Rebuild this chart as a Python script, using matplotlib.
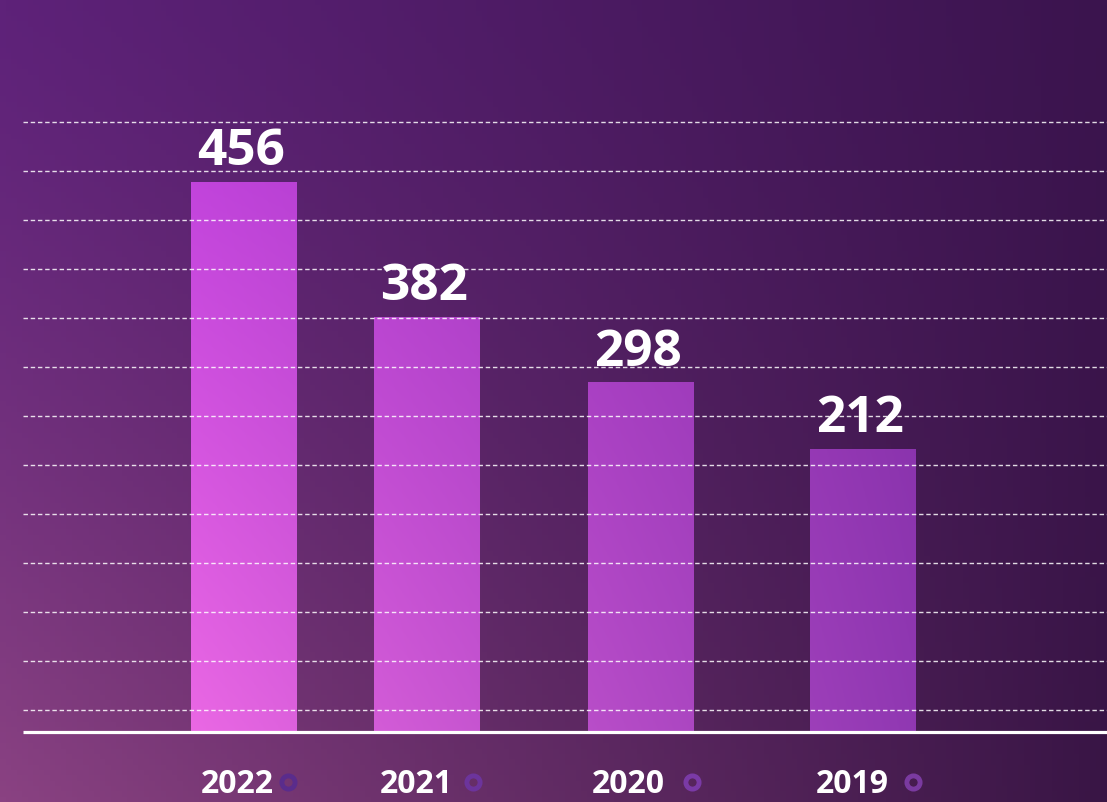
import numpy as np
import matplotlib
matplotlib.use("Agg")
import matplotlib.pyplot as plt
from matplotlib.colors import to_rgb

# ---- data ----
years = ["2022", "2021", "2020", "2019"]
values = [456, 382, 298, 212]            # printed labels
bar_heights = [456, 344, 290, 235]       # drawn bar heights as in the picture (same scale)

# ---- layout (pixels of the 1107x802 canvas) ----
W, H = 1107, 802
bar_centers = [244, 426.5, 640.5, 862.5]
bar_width = 106
label_shift = [-7, -10, -12, -10]        # x shift of the year label from bar centre
ring_shift = [44, 46, 51, 50]            # x shift of the ring marker from bar centre
ring_colors = ["#5a2c8c", "#6c349c", "#7a3aa6", "#7a3aa0"]
baseline_px = 732
px_per_unit = 550 / 456

FONT = ["Open Sans", "DejaVu Sans"]

fig = plt.figure(figsize=(W / 100, H / 100), dpi=100)

# ---- background gradient ----
bg = fig.add_axes([0, 0, 1, 1])
bg.set_axis_off()
tl, tr = np.array(to_rgb("#5e2279")), np.array(to_rgb("#3b144e"))
bl, br = np.array(to_rgb("#8a4282")), np.array(to_rgb("#391545"))
xs = np.linspace(0, 1, 200)[None, :, None]
ys = np.linspace(0, 1, 150)[:, None, None]
top = tl * (1 - xs) + tr * xs
bot = bl * (1 - xs) + br * xs
img = top * (1 - ys ** 1.3) + bot * ys ** 1.3
bg.imshow(img, extent=[0, 1, 0, 1], aspect="auto", origin="upper")
bg.set_xlim(0, 1)
bg.set_ylim(0, 1)

# ---- main axes ----
ax = fig.add_axes([0, (H - baseline_px) / H, 1, baseline_px / H])
ax.set_facecolor("none")
ax.set_xlim(0, W)
ymax = baseline_px / px_per_unit
ax.set_ylim(0, ymax)
for s in ax.spines.values():
    s.set_visible(False)
ax.set_xticks([])
ax.set_yticks([])

# bars with a gradient fill
bars = ax.bar(bar_centers, bar_heights, width=bar_width, color="none", zorder=2)
gbl, gtl = np.array(to_rgb("#ea68e4")), np.array(to_rgb("#c244dc"))
gbr, gtr = np.array(to_rgb("#9038b2")), np.array(to_rgb("#8630aa"))
gx = np.linspace(0, 1, 300)[None, :, None]
gy = np.linspace(0, 1, 300)[:, None, None]
gtop = gtl * (1 - gx) + gtr * gx
gbot = gbl * (1 - gx) + gbr * gx
gimg = gtop * (1 - gy) + gbot * gy
x0, x1 = bar_centers[0] - bar_width / 2, bar_centers[-1] + bar_width / 2
for b in bars:
    im = ax.imshow(gimg, extent=[x0, x1, 0, bar_heights[0]], aspect="auto",
                   origin="upper", zorder=2)
    im.set_clip_path(b)

# dashed grid lines
grid_step = 49 / px_per_unit
grid_levels = 22 / px_per_unit + grid_step * np.arange(13)
ax.hlines(grid_levels, 23, W, colors="white", linewidth=1.0, alpha=0.85,
          linestyles=(0, (3.2, 2.0)), zorder=3)

# baseline
ax.hlines(0, 23, W, colors="white", linewidth=2.3, zorder=4, clip_on=False)

# value labels
for c, h, v in zip(bar_centers, bar_heights, values):
    ax.annotate(str(v), (c, h), xytext=(-2, 12), textcoords="offset points",
                ha="center", va="baseline", color="white", fontsize=37,
                fontweight="bold", family=FONT, zorder=5)

# year labels and ring markers
for c, y, ls, rs, rc in zip(bar_centers, years, label_shift, ring_shift, ring_colors):
    ax.annotate(y, (c + ls, 0), xytext=(0, -61 * 72 / 100), textcoords="offset points",
                ha="center", va="baseline", color="white", fontsize=23,
                fontweight="bold", family=FONT, annotation_clip=False)
    ax.plot([c + rs], [-50 / px_per_unit], marker="o", markersize=9.5,
            markerfacecolor="none", markeredgecolor=rc, markeredgewidth=3.5,
            clip_on=False, zorder=5)

fig.savefig("out.png", dpi=100)
